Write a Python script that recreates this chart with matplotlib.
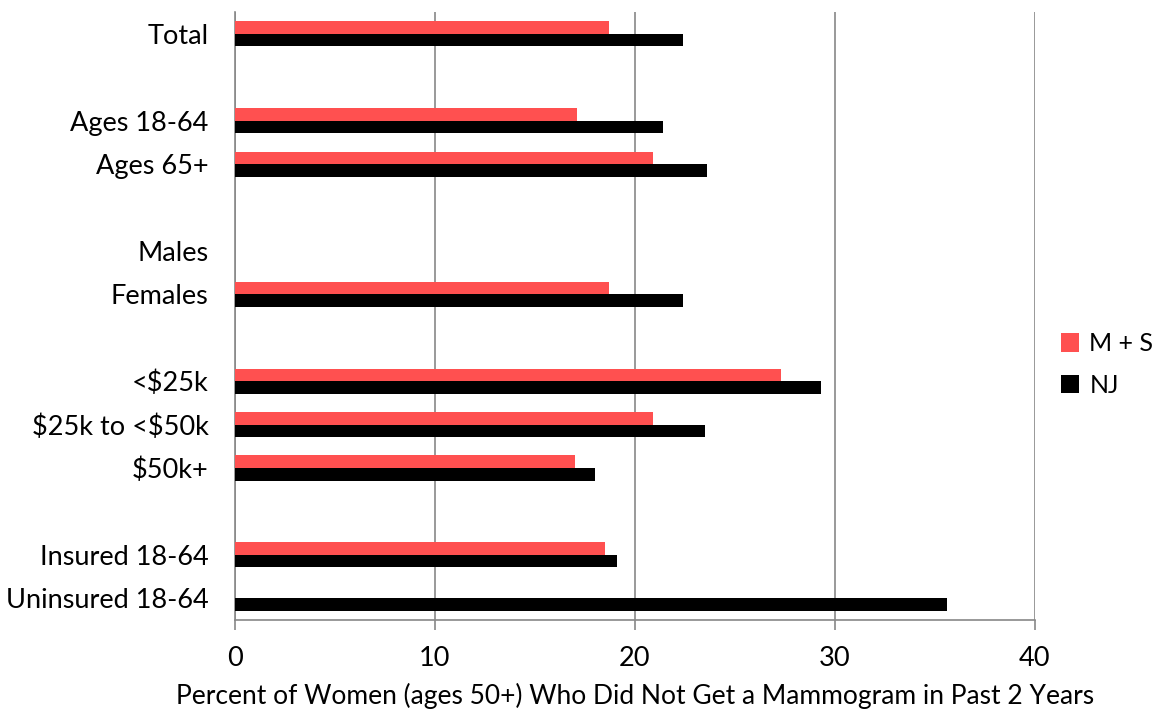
import numpy as np
import matplotlib.pyplot as plt

plt.rcParams['font.family'] = ['Lato', 'DejaVu Sans']
plt.rcParams['text.parse_math'] = False

categories = ['Total', '', 'Ages 18-64', 'Ages 65+', '', 'Males', 'Females', '',
              '<$25k', '$25k to <$50k', '$50k+', '', 'Insured 18-64', 'Uninsured 18-64']
ms_vals = [18.7, np.nan, 17.1, 20.9, np.nan, np.nan, 18.7, np.nan,
           27.3, 20.9, 17.0, np.nan, 18.5, np.nan]
nj_vals = [22.4, np.nan, 21.4, 23.6, np.nan, np.nan, 22.4, np.nan,
           29.3, 23.5, 18.0, np.nan, 19.1, 35.6]

fig = plt.figure(figsize=(11.59, 7.15), dpi=100)
ax = fig.add_axes([0.2028, 0.133, 0.69, 0.85])

y = np.arange(len(categories))
h = 0.29
ax.barh(y - h / 2, ms_vals, height=h, color='#FF5050', label='M + S', zorder=3)
ax.barh(y + h / 2, nj_vals, height=h, color='black', label='NJ', zorder=3)

ax.set_ylim(len(categories) - 0.5, -0.5)
ax.set_xlim(0, 40)
ax.set_xticks([0, 10, 20, 30, 40])
ax.set_yticks(y)
ax.set_yticklabels(categories)
ax.tick_params(axis='y', length=0, pad=19, labelsize=19.5)
ax.tick_params(axis='x', length=7, color='#888888', width=1.2, labelsize=19.5, pad=12)
ax.grid(axis='x', color='#888888', linewidth=1.2, zorder=0)
for s in ['top', 'right']:
    ax.spines[s].set_visible(False)
for s in ['left', 'bottom']:
    ax.spines[s].set_color('#888888')
    ax.spines[s].set_linewidth(1.2)
ax.set_xlabel('Percent of Women (ages 50+) Who Did Not Get a Mammogram in Past 2 Years',
              fontsize=19, labelpad=8)

ax.legend(loc='center left', bbox_to_anchor=(1.02, 0.42), frameon=False, fontsize=18,
          handlelength=0.75, handleheight=0.75, handletextpad=0.4, labelspacing=0.75,
          borderaxespad=0)

fig.savefig('out.png', dpi=100)
